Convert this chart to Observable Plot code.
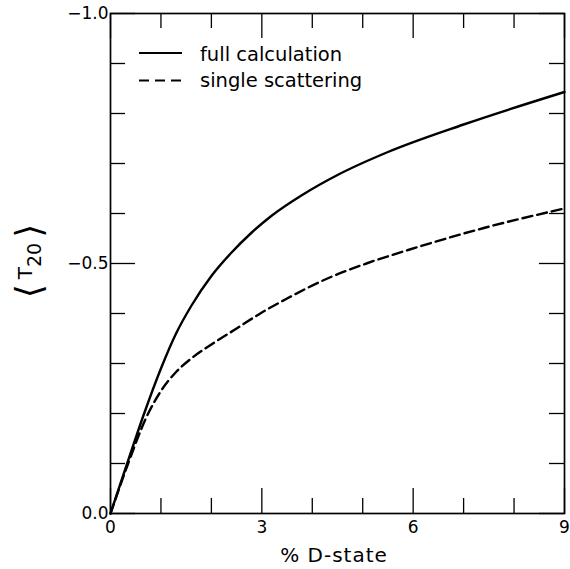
<!DOCTYPE html>
<html><head><meta charset="utf-8">
<script src="https://cdn.jsdelivr.net/npm/d3@7"></script>
<script src="https://cdn.jsdelivr.net/npm/@observablehq/plot@0.6"></script>
<style>body{margin:0;background:#fff} svg{display:block}</style>
</head><body><div id="chart"></div>
<script>
// Data
const fullX = [0, 0.33, 0.66, 1.0, 1.3, 1.6, 2.0, 2.4, 2.8, 3.2, 3.8, 4.5, 5.5, 7.0, 9.0];
const fullY = [0, -0.1, -0.198, -0.29, -0.36, -0.415, -0.475, -0.522, -0.562, -0.596, -0.637, -0.677, -0.723, -0.778, -0.843];
const singleX = [0, 0.35, 0.7, 1.0, 1.3, 1.6, 2.0, 2.5, 3.0, 3.5, 4.3, 5.1, 5.9, 7.4, 9.0];
const singleY = [0, -0.1, -0.19, -0.245, -0.283, -0.31, -0.338, -0.37, -0.402, -0.43, -0.47, -0.501, -0.527, -0.571, -0.61];
const xMajorTicks = [0, 3, 6, 9];
const xMinorTicks = [1, 2, 4, 5, 7, 8];
const yMajorTicks = [0, -0.5, -1];
const yMinorTicks = [-0.1, -0.2, -0.3, -0.4, -0.6, -0.7, -0.8, -0.9];
const legendLabels = ["full calculation", "single scattering"];
const xLabel = "% D-state";

const full = fullX.map((x, i) => ({x, y: fullY[i]}));
const single = singleX.map((x, i) => ({x, y: singleY[i]}));

const W = 570, H = 569, mL = 110, mR = 6, mT = 13, mB = 56;
const fw = W - mL - mR, fh = H - mT - mB;
const MAJ = 25, MIN = 15;
const tk = {stroke: "#000", strokeWidth: 1.3};

const svg = Plot.plot({
  width: W, height: H,
  marginLeft: mL, marginRight: mR, marginTop: mT, marginBottom: mB,
  style: {fontFamily: "DejaVu Sans", fontSize: "17px", color: "#000", background: "#fff"},
  x: {domain: [0, 9]},
  y: {domain: [0, -1]},
  marks: [
    Plot.tickX(xMinorTicks, {...tk, insetTop: fh - MIN}),
    Plot.tickX(xMinorTicks, {...tk, insetBottom: fh - MIN}),
    Plot.tickX(xMajorTicks, {...tk, insetTop: fh - MAJ}),
    Plot.tickX(xMajorTicks, {...tk, insetBottom: fh - MAJ}),
    Plot.tickY(yMinorTicks, {...tk, insetRight: fw - MIN}),
    Plot.tickY(yMinorTicks, {...tk, insetLeft: fw - MIN}),
    Plot.tickY(yMajorTicks, {...tk, insetRight: fw - MAJ}),
    Plot.tickY(yMajorTicks, {...tk, insetLeft: fw - MAJ}),
    Plot.frame({stroke: "#000", strokeWidth: 1.7}),
    Plot.axisX({ticks: xMajorTicks, tickSize: 0, tickPadding: 7, label: null, tickFormat: d => String(d)}),
    Plot.axisY({ticks: yMajorTicks, tickSize: 0, tickPadding: 2, label: null,
      tickFormat: d => d === 0 ? "0.0" : "\u2212" + (-d).toFixed(1)}),
    Plot.line(full, {x: "x", y: "y", curve: "monotone-x", stroke: "#000", strokeWidth: 2.4}),
    Plot.line(single, {x: "x", y: "y", curve: "monotone-x", stroke: "#000", strokeWidth: 2.4, strokeDasharray: "10,5"})
  ]
});
document.getElementById("chart").appendChild(svg);

const s = d3.select(svg);
// legend
const lg = s.append("g").attr("font-family", "DejaVu Sans").attr("font-size", 19.5).attr("fill", "#000").attr("text-anchor", "start");
lg.append("line").attr("x1", 139).attr("x2", 182).attr("y1", 53).attr("y2", 53).attr("stroke", "#000").attr("stroke-width", 2);
lg.append("line").attr("x1", 139).attr("x2", 182).attr("y1", 80.5).attr("y2", 80.5).attr("stroke", "#000").attr("stroke-width", 2.2).attr("stroke-dasharray", "10,6");
lg.append("text").attr("x", 200).attr("y", 60.5).text(legendLabels[0]);
lg.append("text").attr("x", 200).attr("y", 86.5).text(legendLabels[1]);
// x label
s.append("text").attr("x", 334).attr("y", 562).attr("text-anchor", "middle")
  .attr("font-family", "DejaVu Sans").attr("font-size", 20).attr("letter-spacing", 1).attr("fill", "#000").text(xLabel);
// y label <T20>
const yg = s.append("g").attr("transform", "translate(32,261) rotate(-90)");
const yt = yg.append("text").attr("text-anchor", "middle").attr("font-family", "DejaVu Sans").attr("fill", "#000");
yt.append("tspan").attr("font-size", 36).attr("dy", 9).text("\u27E8");
yt.append("tspan").attr("font-size", 20).attr("dy", -9).attr("dx", 5).text("T");
yt.append("tspan").attr("font-size", 19).attr("dy", 9).text("20");
yt.append("tspan").attr("font-size", 36).attr("dy", 0).attr("dx", 5).text("\u27E9");
</script>
</body></html>
